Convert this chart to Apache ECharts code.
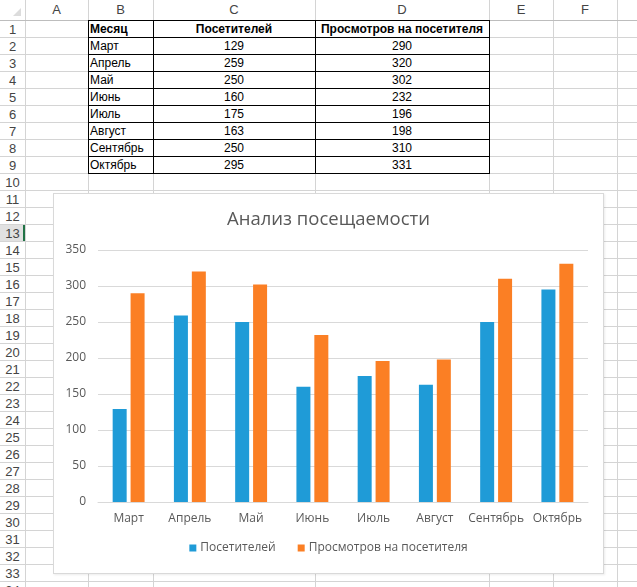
<!DOCTYPE html>
<html>
<head>
<meta charset="utf-8">
<script src="https://cdn.jsdelivr.net/npm/echarts@6/dist/echarts.min.js"></script>
<style>
html,body{margin:0;padding:0;width:637px;height:587px;overflow:hidden;background:#fff;font-family:"Liberation Sans",Arial,sans-serif;}
#sheet{position:absolute;left:0;top:0;width:637px;height:587px;}
.vl{position:absolute;width:1px;background:#d4d4d4;}
.hl{position:absolute;height:1px;background:#d4d4d4;}
.bk{background:#000;}
.t{position:absolute;font-size:12px;line-height:17px;white-space:nowrap;color:#000;}
.hdr{position:absolute;font-size:13px;line-height:20px;color:#444;text-align:center;}
.rn{position:absolute;font-size:13px;line-height:17px;color:#444;text-align:center;width:25px;left:0;}
#chartBox{position:absolute;left:53px;top:193px;width:549px;height:379px;background:#fff;border:1px solid #d9d9d9;box-shadow:1px 1px 2px rgba(0,0,0,0.08);}
#chart{width:549px;height:379px;}
</style>
</head>
<body>
<div id="sheet"></div>
<div id="chartBox"><div id="chart"></div></div>
<script>
// ---- data ----
var headers = ["Месяц", "Посетителей", "Просмотров на посетителя"];
var months = ["Март", "Апрель", "Май", "Июнь", "Июль", "Август", "Сентябрь", "Октябрь"];
var visitors = [129, 259, 250, 160, 175, 163, 250, 295];
var views = [290, 320, 302, 232, 196, 198, 310, 331];
var colLetters = ["A", "B", "C", "D", "E", "F", "G"];
var chartTitle = "Анализ посещаемости";

// ---- spreadsheet layout ----
var colX = [25, 88, 153, 315, 489, 553, 617, 680];
var hdrH = 20, rowH = 17, nRows = 34;
var sheet = document.getElementById('sheet');
function add(cls, style, text) {
  var d = document.createElement('div');
  d.className = cls;
  for (var k in style) d.style[k] = style[k];
  if (text !== undefined) d.textContent = text;
  sheet.appendChild(d);
  return d;
}
// row 13 selected header highlight
add('', {position:'absolute', left:'0px', top:(hdrH + 12*rowH)+'px', width:'25px', height:rowH+'px', background:'#e1e1e1'});
add('', {position:'absolute', left:'23px', top:(hdrH + 12*rowH)+'px', width:'2px', height:rowH+'px', background:'#217346'});
// vertical lines
add('vl', {left:'25px', top:'0px', height:'587px'});
for (var i = 1; i < colX.length; i++) add('vl', {left:colX[i]+'px', top:'0px', height:'587px'});
// horizontal lines
add('hl', {left:'0px', top:hdrH+'px', width:'637px', background:'#bdbdbd'});
for (var r = 1; r <= nRows; r++) add('hl', {left:'0px', top:(hdrH + r*rowH)+'px', width:'637px'});
// corner triangle
add('', {position:'absolute', left:'13px', top:'8px', width:'0', height:'0', borderLeft:'8px solid transparent', borderBottom:'8px solid #dcdcdc'});
// column headers
for (var c = 0; c < colLetters.length; c++) {
  add('hdr', {left:colX[c]+'px', top:'0px', width:(colX[c+1]-colX[c])+'px'}, colLetters[c]);
}
// row numbers
for (var r = 1; r <= nRows; r++) {
  add('rn', {top:(hdrH + (r-1)*rowH + 1)+'px'}, String(r));
}
// table data
var tL = colX[1], tR = colX[4], tT = hdrH, tB = hdrH + (months.length + 1) * rowH;
function cell(col, row, text, align, bold) {
  var x0 = colX[col], x1 = colX[col+1];
  var st = {left:(x0+2)+'px', top:(hdrH + row*rowH + 1)+'px', width:(x1-x0-4)+'px', textAlign:align};
  if (bold) st.fontWeight = 'bold';
  add('t', st, text);
}
cell(1, 0, headers[0], 'left', true);
cell(2, 0, headers[1], 'center', true);
cell(3, 0, headers[2], 'center', true);
for (var i = 0; i < months.length; i++) {
  cell(1, i+1, months[i], 'left', false);
  cell(2, i+1, String(visitors[i]), 'center', false);
  cell(3, i+1, String(views[i]), 'center', false);
}
// black borders
for (var r = 0; r <= months.length + 1; r++) add('hl bk', {left:tL+'px', top:(hdrH + r*rowH)+'px', width:(tR-tL+1)+'px'});
for (var c = 1; c <= 4; c++) add('vl bk', {left:colX[c]+'px', top:tT+'px', height:(tB-tT+1)+'px'});

// ---- chart ----
var chart = echarts.init(document.getElementById('chart'));
var txt = '#595959';
chart.setOption({
  animation: false,
  backgroundColor: '#fff',
  title: {
    text: chartTitle, left: 'center', top: 11,
    textStyle: {fontFamily: 'Open Sans', fontSize: 18.5, fontWeight: 'normal', color: txt}
  },
  legend: {
    bottom: 14, left: 'center', itemWidth: 7, itemHeight: 7, itemGap: 22, icon: 'rect',
    textStyle: {fontFamily: 'Open Sans', fontSize: 12, color: txt, padding: [0, 0, 0, -1]},
    data: ['Посетителей', 'Просмотров на посетителя']
  },
  grid: {left: 44, right: 15, top: 56, bottom: 71},
  xAxis: {
    type: 'category', data: months,
    axisLine: {lineStyle: {color: '#d9d9d9'}},
    axisTick: {show: false},
    axisLabel: {fontFamily: 'Open Sans', fontSize: 12, color: txt, margin: 11, interval: 0}
  },
  yAxis: {
    type: 'value', min: 0, max: 350, interval: 50,
    axisLine: {show: false}, axisTick: {show: false},
    splitLine: {lineStyle: {color: '#d9d9d9'}},
    axisLabel: {fontFamily: 'Open Sans', fontSize: 12, color: txt, margin: 12}
  },
  series: [
    {name: 'Посетителей', type: 'bar', data: visitors, barWidth: 14, barGap: '28%', itemStyle: {color: '#1f9bd7'}},
    {name: 'Просмотров на посетителя', type: 'bar', data: views, barWidth: 14, itemStyle: {color: '#fb7f24'}}
  ]
});
</script>
</body>
</html>
